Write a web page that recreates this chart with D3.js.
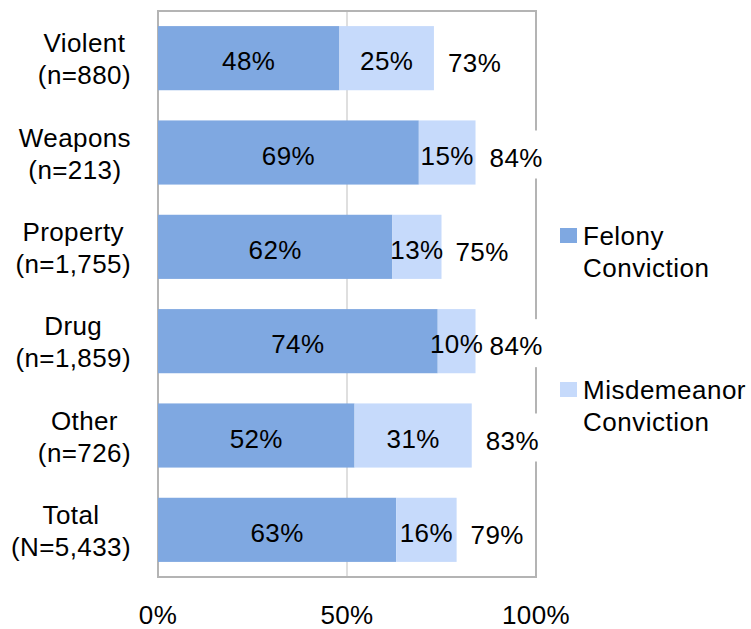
<!DOCTYPE html>
<html>
<head>
<meta charset="utf-8">
<script src="https://cdn.jsdelivr.net/npm/d3@7"></script>
<style>
  html, body { margin: 0; padding: 0; background: #fff; }
  svg { display: block; font-family: "Liberation Sans", Arial, sans-serif; }
</style>
</head>
<body>
<svg id="chart" width="751" height="629"></svg>
<script>
const categories = ["Violent", "Weapons", "Property", "Drug", "Other", "Total"];
const counts = ["(n=880)", "(n=213)", "(n=1,755)", "(n=1,859)", "(n=726)", "(N=5,433)"];
const felony = [48, 69, 62, 74, 52, 63];
const misdemeanor = [25, 15, 13, 10, 31, 16];
const totals = [73, 84, 75, 84, 83, 79];
const xTicks = [0, 50, 100];
const seriesNames = [["Felony", "Conviction"], ["Misdemeanor", "Conviction"]];
const colors = ["#7FA8E1", "#C6DAFB"];

(function () {
const svg = d3.select("#chart");
const fontSize = 26;
const ls = "0.4px";
const pL = 158, pR = 536, pT = 11, pB = 577;

const x = d3.scaleLinear().domain([0, 100]).range([pL, pR]);
const y = d3.scaleBand().domain(categories).range([pT, pB]).paddingInner(0.32).paddingOuter(0.16);

// gridline at 50%
svg.append("g").selectAll("line").data(xTicks.filter(t => t > 0 && t < 100)).join("line")
  .attr("x1", d => x(d)).attr("x2", d => x(d))
  .attr("y1", pT).attr("y2", pB)
  .attr("stroke", "#d4d4d4").attr("stroke-width", 1.5);

// plot border
svg.append("rect")
  .attr("x", pL).attr("y", pT).attr("width", pR - pL).attr("height", pB - pT)
  .attr("fill", "none").attr("stroke", "#b4b4b4").attr("stroke-width", 2);

const rows = categories.map((c, i) => ({ c, i, f: felony[i], m: misdemeanor[i], t: totals[i] }));

// bars
const gBars = svg.append("g");
gBars.selectAll("rect.fel").data(rows).join("rect").attr("class", "fel")
  .attr("x", x(0)).attr("y", d => y(d.c))
  .attr("width", d => x(d.f) - x(0)).attr("height", y.bandwidth())
  .attr("fill", colors[0]);
gBars.selectAll("rect.mis").data(rows).join("rect").attr("class", "mis")
  .attr("x", d => x(d.f)).attr("y", d => y(d.c))
  .attr("width", d => x(d.f + d.m) - x(d.f)).attr("height", y.bandwidth())
  .attr("fill", colors[1]);

// labels
const labelDy = 12;
const gLab = svg.append("g").attr("font-size", fontSize).attr("fill", "#000").attr("letter-spacing", ls);
gLab.selectAll("text.fl").data(rows).join("text").attr("class", "fl")
  .attr("x", d => (x(0) + x(d.f)) / 2).attr("y", d => y(d.c) + y.bandwidth() / 2 + labelDy)
  .attr("text-anchor", "middle").text(d => d.f + "%");
gLab.selectAll("text.ml").data(rows).join("text").attr("class", "ml")
  .attr("x", d => (x(d.f) + x(d.f + d.m)) / 2).attr("y", d => y(d.c) + y.bandwidth() / 2 + labelDy)
  .attr("text-anchor", "middle").text(d => d.m + "%");

// total labels with white background
const tg = gLab.selectAll("g.tl").data(rows).join("g").attr("class", "tl");
tg.append("rect")
  .attr("x", d => x(d.t) + 8).attr("y", d => y(d.c) + y.bandwidth() / 2 - 22)
  .attr("width", 66).attr("height", 48).attr("fill", "#fff");
tg.append("text")
  .attr("x", d => x(d.t) + 14).attr("y", d => y(d.c) + y.bandwidth() / 2 + labelDy + 2)
  .attr("text-anchor", "start").text(d => d.t + "%");

// category labels (block right-aligned, lines centered)
const gCat = svg.append("g").attr("font-size", fontSize).attr("fill", "#000").attr("letter-spacing", ls);
rows.forEach(d => {
  const g = gCat.append("g");
  const t1 = g.append("text").text(d.c);
  const t2 = g.append("text").text(counts[d.i]);
  const w = Math.max(t1.node().getComputedTextLength(), t2.node().getComputedTextLength());
  const cx = 131 - w / 2;
  const cy = y(d.c) + y.bandwidth() / 2;
  t1.attr("x", cx).attr("y", cy - 6).attr("text-anchor", "middle");
  t2.attr("x", cx).attr("y", cy + 26).attr("text-anchor", "middle");
});

// x axis tick labels
svg.append("g").attr("font-size", fontSize).attr("letter-spacing", ls).selectAll("text").data(xTicks).join("text")
  .attr("x", d => x(d)).attr("y", 624).attr("text-anchor", "middle")
  .text(d => d + "%");

// legend
const legY = [228, 382];
const gLeg = svg.append("g").attr("font-size", fontSize).attr("letter-spacing", "0.5px");
seriesNames.forEach((lines, i) => {
  gLeg.append("rect").attr("x", 560).attr("y", legY[i]).attr("width", 17).attr("height", 15).attr("fill", colors[i]);
  lines.forEach((ln, j) => {
    gLeg.append("text").attr("x", 583).attr("y", legY[i] + 17 + j * 32).text(ln);
  });
});
})();
</script>
</body>
</html>
